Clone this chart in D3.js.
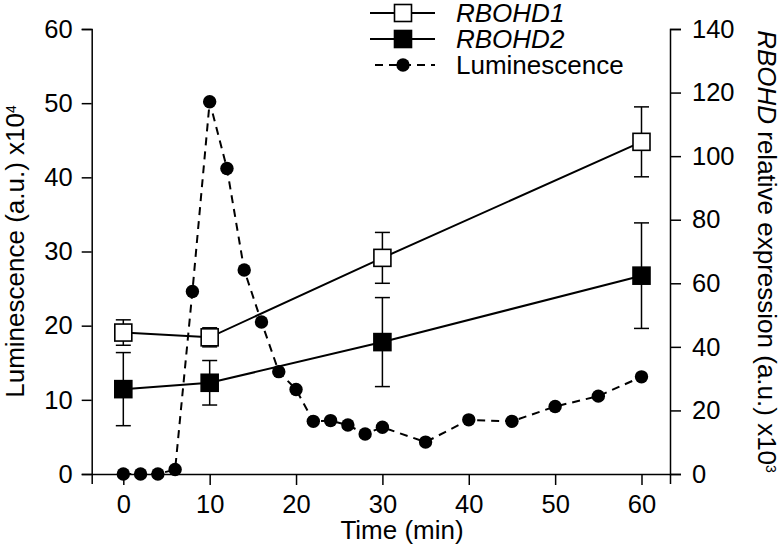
<!DOCTYPE html>
<html><head><meta charset="utf-8">
<script src="https://cdn.jsdelivr.net/npm/d3@7"></script>
<style>
html,body{margin:0;padding:0;background:#fff;}
svg text{font-family:"Liberation Sans",Arial,sans-serif;fill:#000;}
</style></head>
<body>
<svg id="chart" width="783" height="550"></svg>
<script>
// ---- data ----
const lumTime = [0,2,4,6,8,10,12,14,16,18,20,22,24,26,28,30,35,40,45,50,55,60];
const lumValues = [0,0,0,0.6,24.6,50.2,41.2,27.5,20.5,13.8,11.4,7.1,7.2,6.6,5.4,6.3,4.3,7.3,7.1,9.1,10.5,13.1];
const geneTime = [0,10,30,60];
const rbohd1 = [44.5,43,68,104.5];
const rbohd1Err = [4,3,8,11];
const rbohd2 = [26.7,28.7,41.5,62.4];
const rbohd2Err = [11.5,7,14,16.6];
const xTicks = [0,10,20,30,40,50,60];
const yLeftTicks = [0,10,20,30,40,50,60];
const yRightTicks = [0,20,40,60,80,100,120,140];

const svg = d3.select("#chart");
const x = d3.scaleLinear().domain([-3.66,63.3]).range([91.7,670]);
const yL = d3.scaleLinear().domain([0,60]).range([474,29]);
const yR = d3.scaleLinear().domain([0,140]).range([474,29]);
const FS = "25.5px";

function styleAxis(g){
  g.selectAll("path,line").attr("stroke","#000").attr("stroke-width",1.5);
  g.selectAll("text").style("font-size",FS).attr("fill","#000");
  g.attr("font-family",null);
}
svg.append("g").attr("transform","translate(0,474)")
  .call(d3.axisBottom(x).tickValues(xTicks).tickSize(11).tickSizeOuter(10).tickPadding(10))
  .call(styleAxis);
svg.append("g").attr("transform","translate(91.7,0)")
  .call(d3.axisLeft(yL).tickValues(yLeftTicks).tickSize(10).tickSizeOuter(10).tickPadding(9))
  .call(styleAxis);
svg.append("g").attr("transform","translate(670,0)")
  .call(d3.axisRight(yR).tickValues(yRightTicks).tickSize(11).tickSizeOuter(11).tickPadding(11))
  .call(styleAxis);

// axis titles
svg.append("text").attr("x",402).attr("y",539).attr("text-anchor","middle")
  .style("font-size","26px").text("Time (min)");
const lt = svg.append("text").attr("transform","translate(24,251.5) rotate(-90)")
  .attr("text-anchor","middle").style("font-size","26px");
lt.append("tspan").text("Luminescence (a.u.) x10");
lt.append("tspan").attr("baseline-shift","super").style("font-size","14px").text("4");
const rt = svg.append("text").attr("transform","translate(758,251.5) rotate(90)")
  .attr("text-anchor","middle").style("font-size","26px");
rt.append("tspan").style("font-style","italic").text("RBOHD");
rt.append("tspan").text(" relative expression (a.u.) x10");
rt.append("tspan").attr("baseline-shift","super").style("font-size","14px").text("3");

// luminescence dashed line
const lumData = lumTime.map((t,i)=>({t,v:lumValues[i]}));
svg.append("path").datum(lumData)
  .attr("d",d3.line().x(d=>x(d.t)).y(d=>yL(d.v)))
  .attr("fill","none").attr("stroke","#000").attr("stroke-width",2).attr("stroke-dasharray","8,6");

// gene series
function drawGene(vals, errs, fill){
  const data = geneTime.map((t,i)=>({t,v:vals[i],e:errs[i]}));
  const g = svg.append("g");
  g.selectAll("line.eb").data(data).enter().append("line")
    .attr("x1",d=>x(d.t)).attr("x2",d=>x(d.t))
    .attr("y1",d=>yR(d.v+d.e)).attr("y2",d=>yR(d.v-d.e))
    .attr("stroke","#000").attr("stroke-width",1.5);
  ["+","-"].forEach(s=>{
    g.selectAll("line.cap"+(s=="+"?"u":"d")).data(data).enter().append("line")
      .attr("x1",d=>x(d.t)-7.5).attr("x2",d=>x(d.t)+7.5)
      .attr("y1",d=>yR(s=="+"?d.v+d.e:d.v-d.e)).attr("y2",d=>yR(s=="+"?d.v+d.e:d.v-d.e))
      .attr("stroke","#000").attr("stroke-width",1.5);
  });
  g.append("path").datum(data)
    .attr("d",d3.line().x(d=>x(d.t)).y(d=>yR(d.v)))
    .attr("fill","none").attr("stroke","#000").attr("stroke-width",2);
  g.selectAll("rect").data(data).enter().append("rect")
    .attr("x",d=>x(d.t)-8.5).attr("y",d=>yR(d.v)-8.5)
    .attr("width",17).attr("height",17)
    .attr("fill",fill).attr("stroke","#000").attr("stroke-width",1.6);
}
drawGene(rbohd1, rbohd1Err, "#fff");
drawGene(rbohd2, rbohd2Err, "#000");

svg.append("g").selectAll("circle").data(lumData).enter().append("circle")
  .attr("cx",d=>x(d.t)).attr("cy",d=>yL(d.v)).attr("r",6.7).attr("fill","#000");

// legend
const legendItems = [
  {label:"RBOHD1", italic:true, type:"open"},
  {label:"RBOHD2", italic:true, type:"filled"},
  {label:"Luminescence", italic:false, type:"lum"}
];
const lg = svg.append("g");
legendItems.forEach((it,i)=>{
  const cy = 13 + i*26;
  const g = lg.append("g");
  g.append("line").attr("x1",it.type=="lum"?375:370).attr("x2",435).attr("y1",cy).attr("y2",cy)
    .attr("stroke","#000").attr("stroke-width",2)
    .attr("stroke-dasharray",it.type=="lum"?"8,6":null);
  if(it.type=="lum"){
    g.append("circle").attr("cx",403).attr("cy",cy).attr("r",6.7).attr("fill","#000");
  } else {
    g.append("rect").attr("x",403-8.5).attr("y",cy-8.5).attr("width",17).attr("height",17)
      .attr("fill",it.type=="open"?"#fff":"#000").attr("stroke","#000").attr("stroke-width",1.6);
  }
  g.append("text").attr("x",456).attr("y",cy).attr("dy","0.35em")
    .style("font-size","26px").style("font-style",it.italic?"italic":"normal").text(it.label);
});
</script>
</body></html>
